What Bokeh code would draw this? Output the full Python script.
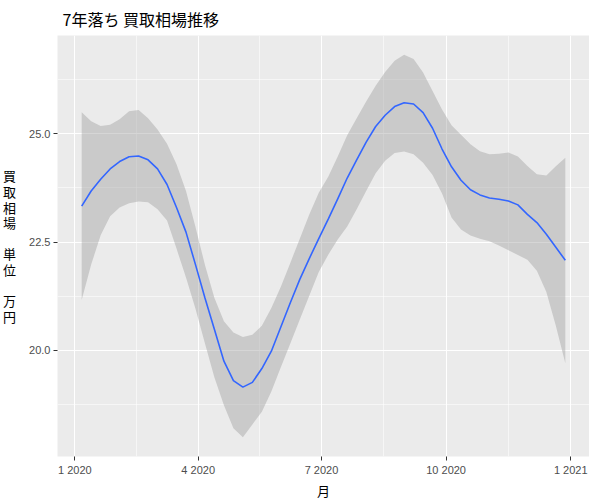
import datetime as dt
from bokeh.plotting import figure
from bokeh.models import Range1d, FixedTicker, ColumnDataSource
from bokeh.embed import file_html
from bokeh.resources import INLINE

# ---- data (weekly points, Mondays from 2020-01-06 to 2020-12-28) ----
start_date = dt.datetime(2020, 1, 6)
dates = [start_date + dt.timedelta(days=7 * k) for k in range(52)]

fit = [23.33, 23.68, 23.95, 24.19, 24.36, 24.47, 24.49, 24.40, 24.19, 23.83,
       23.30, 22.73, 21.98, 21.21, 20.48, 19.75, 19.30, 19.15, 19.26, 19.58,
       19.98, 20.54, 21.10, 21.64, 22.12, 22.58, 23.03, 23.50, 23.98, 24.40,
       24.81, 25.17, 25.43, 25.63, 25.72, 25.69, 25.49, 25.13, 24.65, 24.24,
       23.93, 23.71, 23.59, 23.52, 23.49, 23.45, 23.36, 23.14, 22.95, 22.68,
       22.38, 22.08]
upper = [25.50, 25.29, 25.18, 25.21, 25.34, 25.52, 25.55, 25.36, 25.10, 24.77,
         24.30, 23.68, 22.85, 21.97, 21.21, 20.67, 20.41, 20.31, 20.36, 20.57,
         20.98, 21.47, 22.02, 22.58, 23.14, 23.64, 24.01, 24.48, 24.97, 25.36,
         25.75, 26.11, 26.43, 26.69, 26.83, 26.73, 26.42, 25.99, 25.56, 25.20,
         24.98, 24.76, 24.60, 24.53, 24.54, 24.57, 24.48, 24.26, 24.07, 24.04,
         24.25, 24.45]
lower = [21.16, 21.98, 22.66, 23.10, 23.30, 23.40, 23.44, 23.42, 23.26, 23.00,
         22.35, 21.68, 20.96, 20.16, 19.37, 18.73, 18.20, 17.99, 18.29, 18.58,
         19.05, 19.61, 20.16, 20.71, 21.26, 21.81, 22.21, 22.56, 22.86, 23.26,
         23.68, 24.09, 24.38, 24.56, 24.59, 24.53, 24.33, 24.05, 23.62, 23.07,
         22.79, 22.65, 22.58, 22.52, 22.42, 22.31, 22.20, 22.09, 21.84, 21.35,
         20.57, 19.70]

tick_dates = [dt.datetime(2020, 1, 1), dt.datetime(2020, 4, 1), dt.datetime(2020, 7, 1),
              dt.datetime(2020, 10, 1), dt.datetime(2021, 1, 1)]
tick_labels = ["1 2020", "4 2020", "7 2020", "10 2020", "1 2021"]
y_ticks = [20.0, 22.5, 25.0]
y_tick_labels = ["20.0", "22.5", "25.0"]
y_minor = [18.75, 21.25, 23.75, 26.25]

title_text = "7年落ち 買取相場推移"
x_title = "月"
y_title = "買\n取\n相\n場\n \n単\n位\n \n万\n円"

CJK = "Noto Sans CJK JP"
LAT = "Liberation Sans"


def ms(d):
    return (d - dt.datetime(1970, 1, 1)).total_seconds() * 1000.0


x_major = [ms(d) for d in tick_dates]
x_minor = [(a + b) / 2 for a, b in zip(x_major[:-1], x_major[1:])]

xpad = (dates[-1] - dates[0]) * 0.05
ylo, yhi = min(lower), max(upper)
ypad = (yhi - ylo) * 0.05

src = ColumnDataSource(dict(date=dates, fit=fit, upper=upper, lower=lower))

p = figure(x_axis_type="datetime",
           x_range=Range1d(dates[0] - xpad, dates[-1] + xpad),
           y_range=Range1d(ylo - ypad, yhi + ypad),
           frame_width=532, frame_height=421,
           min_border_left=55, min_border_top=26, min_border_right=0, min_border_bottom=37,
           output_backend="svg", toolbar_location=None,
           background_fill_color="#EBEBEB", border_fill_color="white",
           outline_line_color=None, title=title_text)

p.title.text_font = CJK
p.title.text_font_size = "16px"
p.title.text_font_style = "normal"
p.title.text_color = "black"
p.title.text_line_height = 1.0
p.title.standoff = 9
p.title.offset = 5

# grids
xt = FixedTicker(ticks=x_major, minor_ticks=x_minor)
yt = FixedTicker(ticks=y_ticks, minor_ticks=y_minor)
p.xaxis.ticker = xt
p.yaxis.ticker = yt
p.xgrid.ticker = xt
p.ygrid.ticker = yt
for g in (p.xgrid, p.ygrid):
    g.grid_line_color = "white"
    g.grid_line_width = 1.1
    g.minor_grid_line_color = "white"
    g.minor_grid_line_width = 0.55

p.xaxis.major_label_overrides = {int(v): s for v, s in zip(x_major, tick_labels)}
p.yaxis.major_label_overrides = {v: s for v, s in zip(y_ticks, y_tick_labels)}

for ax in (p.xaxis, p.yaxis):
    ax.axis_line_color = None
    ax.major_tick_line_color = "#333333"
    ax.major_tick_in = 0
    ax.major_tick_out = 4
    ax.minor_tick_line_color = None
    ax.major_label_text_color = "#4D4D4D"
    ax.major_label_text_font = LAT
    ax.major_label_text_font_size = "11px"
    ax.major_label_standoff = 3
    ax.axis_label_text_font = CJK
    ax.axis_label_text_font_size = "13px"
    ax.axis_label_text_font_style = "normal"
    ax.axis_label_text_color = "black"

p.xaxis.axis_label = x_title
p.xaxis.axis_label_standoff = 2
p.yaxis.axis_label = y_title
p.yaxis.axis_label_standoff = 10
p.yaxis.axis_label_text_line_height = 0.82
try:
    p.yaxis.axis_label_orientation = "horizontal"
except Exception:
    pass

p.varea(x="date", y1="lower", y2="upper", source=src, fill_color="#999999", fill_alpha=0.4)
p.line(x="date", y="fit", source=src, line_color="#3366FF", line_width=1.6)

open("out.html", "w").write(file_html(p, INLINE))
